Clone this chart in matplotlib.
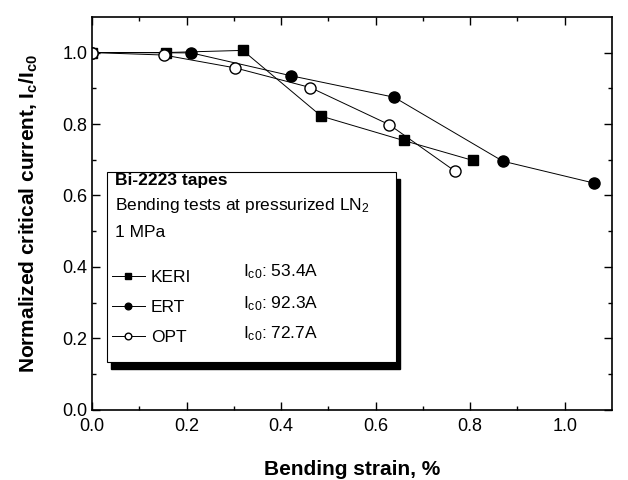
import matplotlib
matplotlib.use('Agg')
import matplotlib.pyplot as plt
from matplotlib.patches import Rectangle

plt.rcParams['font.family'] = 'Liberation Sans'
plt.rcParams['mathtext.fontset'] = 'custom'
plt.rcParams['mathtext.rm'] = 'Liberation Sans'
plt.rcParams['mathtext.bf'] = 'Liberation Sans:bold'
plt.rcParams['mathtext.default'] = 'regular'

# KERI tapes
keri_x = [0.0, 0.157, 0.319, 0.485, 0.659, 0.806]
keri_y = [1.0, 1.0, 1.006, 0.822, 0.754, 0.698]
# ERT tapes
ert_x = [0.0, 0.21, 0.421, 0.639, 0.869, 1.061]
ert_y = [1.0, 0.999, 0.935, 0.875, 0.696, 0.635]
# OPT tapes
opt_x = [0.0, 0.152, 0.303, 0.462, 0.629, 0.768]
opt_y = [1.0, 0.993, 0.957, 0.902, 0.798, 0.668]

ic0 = ['53.4A', '92.3A', '72.7A']

fig = plt.figure(figsize=(6.28, 4.80), dpi=100)
ax = fig.add_axes([0.1465, 0.146, 0.828, 0.819])

lk, = ax.plot(keri_x, keri_y, '-s', color='k', lw=0.7, ms=7, mfc='k', label='KERI')
le, = ax.plot(ert_x, ert_y, '-o', color='k', lw=0.7, ms=8, mfc='k', label='ERT')
lo, = ax.plot(opt_x, opt_y, '-o', color='k', lw=0.7, ms=8, mfc='white', label='OPT')

ax.set_xlim(0, 1.1)
ax.set_ylim(0, 1.1)
ax.set_xticks([0.0, 0.2, 0.4, 0.6, 0.8, 1.0])
ax.set_yticks([0.0, 0.2, 0.4, 0.6, 0.8, 1.0])
ax.set_xticks([0.1, 0.3, 0.5, 0.7, 0.9], minor=True)
ax.set_yticks([0.1, 0.3, 0.5, 0.7, 0.9], minor=True)
ax.tick_params(which='both', direction='in', top=True, right=True, labelsize=13)
ax.tick_params(which='major', length=6, width=1)
ax.tick_params(which='minor', length=3, width=1)
ax.tick_params(axis='x', pad=6)
for s in ax.spines.values():
    s.set_linewidth(1.2)

ax.set_xlabel('Bending strain, %', fontsize=15, fontweight='bold', labelpad=18)
ax.set_ylabel('Normalized critical current, I$_c$/I$_{c0}$', fontsize=15,
              fontweight='bold', labelpad=16)

# legend box with shadow
ax.add_patch(Rectangle((0.037, 0.105), 0.556, 0.483, transform=ax.transAxes,
                       facecolor='k', edgecolor='k', zorder=4))
ax.add_patch(Rectangle((0.029, 0.122), 0.556, 0.483, transform=ax.transAxes,
                       facecolor='white', edgecolor='k', lw=0.8, zorder=5))
ax.text(0.045, 0.583, 'Bi-2223 tapes', transform=ax.transAxes, fontsize=12.5,
        fontweight='bold', va='center', zorder=6)
ax.text(0.045, 0.521, 'Bending tests at pressurized LN$_2$', transform=ax.transAxes,
        fontsize=12.5, va='center', zorder=6)
ax.text(0.045, 0.452, '1 MPa', transform=ax.transAxes, fontsize=12.5, va='center', zorder=6)

leg = ax.legend(handles=[lk, le, lo], loc='upper left', bbox_to_anchor=(0.025, 0.374),
                frameon=False, fontsize=12.5, handlelength=1.9, handletextpad=0.35,
                labelspacing=0.85, markerscale=0.6, borderaxespad=0)
leg.set_zorder(6)

row_y = [0.351, 0.27, 0.193]
for yy, val in zip(row_y, ic0):
    ax.text(0.29, yy, 'I$_{c0}$: ' + val, transform=ax.transAxes, fontsize=12.5,
            va='center', zorder=6)

fig.savefig('out.png', dpi=100)
